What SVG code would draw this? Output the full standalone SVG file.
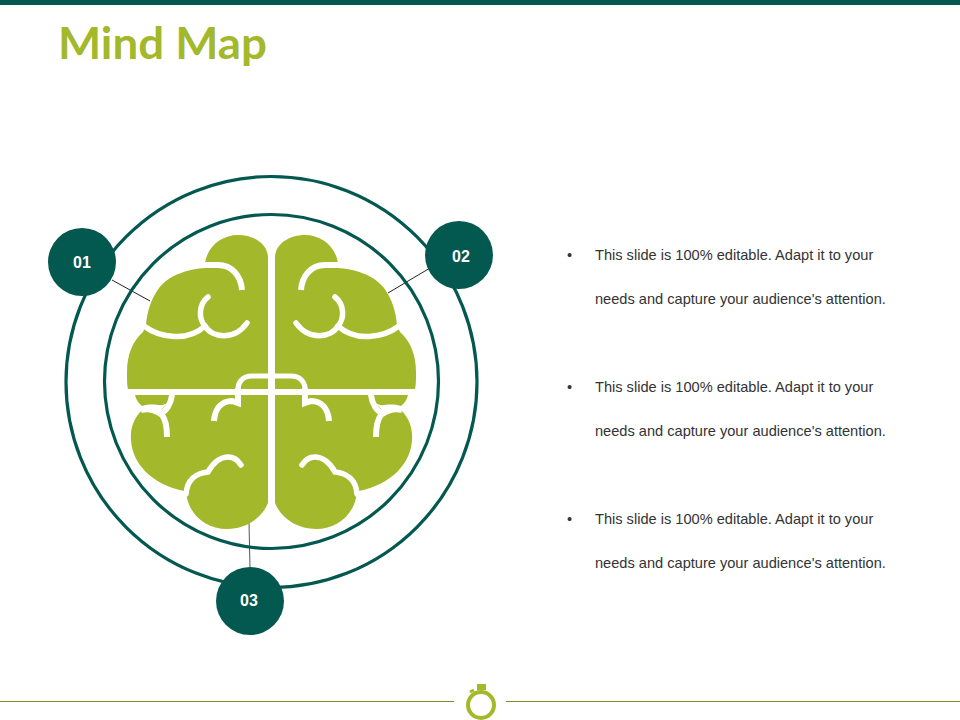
<svg xmlns="http://www.w3.org/2000/svg" width="960" height="720" viewBox="0 0 960 720">
<style>
.ring{fill:none;stroke:#03584f;stroke-width:3.2}
.lobe{fill:#a4b82b}
.cut{fill:none;stroke:#fff;stroke-width:5.5;stroke-linecap:round}
.cutb{fill:none;stroke:#fff;stroke-width:6;stroke-linecap:butt}
.dot{fill:#03584f}
.num{font:bold 16px "Liberation Sans",Arial,sans-serif;fill:#fff;text-anchor:middle}
.body{font:14.6px "Liberation Sans",Arial,sans-serif;fill:#333}
.link{stroke:#222;stroke-width:1;fill:none}
</style>
<defs>
<g id="half">
<path class="lobe" d="M268,389V258C268,244 254,235 238,235C222,235 207,246 205,264V268C190,269 170,274 159,288C151,299 147,312 146,325L143,332C133,341 127,354 127,372C127,380 127,385 128,389Z"/>
<path class="cutb" d="M242,290C241,276 232,265 218,265L204,265"/>
<path class="cut" d="M208,297C199,304 198,318 205,326C212,338 234,341 247,323"/>
<path class="cut" d="M144,326C160,338 188,342 205,326"/>
<path class="lobe" d="M135,395H173C172,401 166,406 158,405C150,404 145,405 142,406C138,403 136,399 135,395Z"/>
<path class="lobe" d="M268,395H175L161,410H142C134,418 130,428 131,440C132,462 150,484 184,491L186,492C188,514 205,529 227,529C246,529 262,518 268,503Z"/>
<path class="cut" d="M186,494C187,480 196,473 208,472C214,461 222,457 228,457C233,457 238,460 241,465"/>
<path class="cutb" d="M172,395C171,404 166,411 160,414"/>
<path class="cutb" d="M141,410C150,408 158,411 162,415C166,420 167,428 167,437"/>
<path class="cutb" d="M214,421C215,408 222,401 232,401L238,403V388"/>
<path class="cutb" style="stroke-width:5" d="M238,392C237,382 243,376 252,376H275"/>
</g>
</defs>
<rect width="960" height="5" fill="#03584f"/>
<text x="58" y="59" textLength="209" lengthAdjust="spacingAndGlyphs" style="font:bold 43px Lato,'Liberation Sans',Arial,sans-serif;fill:#a4b82b">Mind Map</text>
<g id="connectors">
<path class="link" d="M112,280L150,301"/>
<path class="link" d="M430,268L388,293"/>
<path class="link" d="M249,522L250,568" style="stroke:#555"/>
</g>
<g id="rings">
<circle class="ring" cx="271.5" cy="382" r="205.5"/>
<circle class="ring" cx="271.5" cy="381.5" r="167"/>
</g>
<g id="brain">
<use href="#half"/>
<use href="#half" transform="matrix(-1 0 0 1 543 0)"/>
<path d="M127,392.5H416" stroke="#fff" stroke-width="5"/>
<path d="M271.5,235V510" stroke="#fff" stroke-width="6"/>
</g>
<g id="node-01"><circle class="dot" cx="82" cy="262" r="34"/><text class="num" x="82" y="268">01</text></g>
<g id="node-02"><circle class="dot" cx="459" cy="255" r="34"/><text class="num" x="461" y="262">02</text></g>
<g id="node-03"><circle class="dot" cx="250" cy="601" r="34"/><text class="num" x="249" y="606">03</text></g>
<g id="text-1">
<text class="body" x="567" y="260">•</text>
<text class="body" x="595" y="260">This slide is 100% editable. Adapt it to your</text>
<text class="body" x="595" y="304">needs and capture your audience's attention.</text></g>
<g id="text-2"><text class="body" x="567" y="392">•</text>
<text class="body" x="595" y="392">This slide is 100% editable. Adapt it to your</text>
<text class="body" x="595" y="436">needs and capture your audience's attention.</text></g>
<g id="text-3"><text class="body" x="567" y="524">•</text>
<text class="body" x="595" y="524">This slide is 100% editable. Adapt it to your</text>
<text class="body" x="595" y="568">needs and capture your audience's attention.</text></g>
<g id="footer">
<path d="M0,701.5H454M506,701.5H960" stroke="#7d8f2a" stroke-width="1" fill="none"/>
<circle cx="481" cy="705" r="13" fill="none" stroke="#a4b82b" stroke-width="4"/>
<rect x="477" y="684" width="9" height="6" fill="#a4b82b"/>
<path d="M470,692L474,690" stroke="#a4b82b" stroke-width="3"/>
</g>
</svg>
